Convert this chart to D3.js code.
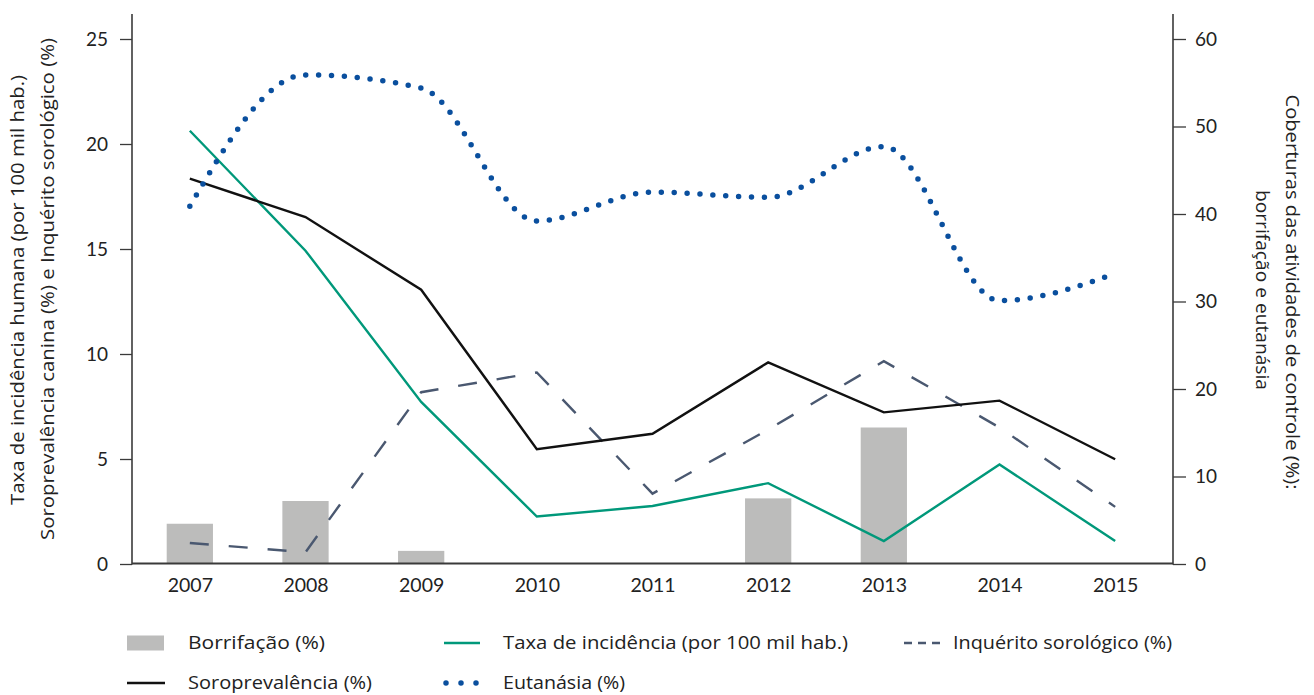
<!DOCTYPE html>
<html>
<head>
<meta charset="utf-8">
<script src="https://cdn.jsdelivr.net/npm/d3@7"></script>
<style>
  html, body { margin: 0; padding: 0; background: #fff; }
  svg { display: block; font-family: "Open Sans", Lato, sans-serif; }
</style>
</head>
<body>
<svg id="chart" width="1314" height="695"></svg>
<script>
// ---- data ----
const years = ["2007","2008","2009","2010","2011","2012","2013","2014","2015"];
const borrifacao = [4.6, 7.2, 1.5, null, null, 7.5, 15.6, null, null];          // right axis (%)
const eutanasia = [40.9, 55.9, 54.4, 39.2, 42.5, 41.9, 47.7, 30.1, 33.2];        // right axis (%)
const incidencia = [20.63, 14.92, 7.72, 2.26, 2.76, 3.85, 1.09, 4.74, 1.09];     // left axis
const soroprevalencia = [18.35, 16.52, 13.06, 5.47, 6.2, 9.6, 7.22, 7.78, 4.99]; // left axis
const inquerito = [1.0, 0.56, 8.18, 9.12, 3.35, 6.4, 9.66, 6.5, 2.72];           // left axis
const leftTicks = [0, 5, 10, 15, 20, 25];
const rightTicks = [0, 10, 20, 30, 40, 50, 60];

const legendItems = [
  { label: "Borrifação  (%)", type: "bar" },
  { label: "Taxa de incidência (por 100 mil hab.)", type: "green" },
  { label: "Inquérito sorológico (%)", type: "dash" },
  { label: "Soroprevalência (%)", type: "black" },
  { label: "Eutanásia (%)", type: "dots" }
];

// ---- layout ----
const svg = d3.select("#chart");
const L = 132, R = 1173, T = 14, B = 564, TOPVAL = 39;
const C = {
  bar: "#bcbcbb", green: "#00987a", dash: "#4a5870", black: "#111111", dots: "#0a4f9e", axis: "#3a3a3a", text: "#222"
};

const x = d3.scalePoint().domain(years).range([L, R]).padding(0.5);
const yL = d3.scaleLinear().domain([0, 25]).range([B, TOPVAL]);
const yR = d3.scaleLinear().domain([0, 60]).range([B, TOPVAL]);
const barW = x.step() * 0.4;

// bars
svg.append("g").selectAll("rect")
  .data(years.map((y, i) => ({ y, v: borrifacao[i] })).filter(d => d.v != null))
  .join("rect")
  .attr("x", d => x(d.y) - barW / 2)
  .attr("width", barW)
  .attr("y", d => yR(d.v))
  .attr("height", d => yR(0) - yR(d.v))
  .attr("fill", C.bar);

// lines
const mk = (arr, scale) => years.map((y, i) => [x(y), scale(arr[i])]);
const line = d3.line();

svg.append("path").attr("d", line(mk(inquerito, yL)))
  .attr("fill", "none").attr("stroke", C.dash).attr("stroke-width", 2.4)
  .attr("stroke-dasharray", "19,20");

svg.append("path").attr("d", line(mk(incidencia, yL)))
  .attr("fill", "none").attr("stroke", C.green).attr("stroke-width", 2.4);

svg.append("path").attr("d", line(mk(soroprevalencia, yL)))
  .attr("fill", "none").attr("stroke", C.black).attr("stroke-width", 2.4);

svg.append("path").attr("d", d3.line().curve(d3.curveMonotoneX)(mk(eutanasia, yR)))
  .attr("fill", "none").attr("stroke", C.dots).attr("stroke-width", 5.5)
  .attr("stroke-linecap", "round").attr("stroke-dasharray", "0,12.9");

// axes
function styleAxis(g) {
  g.selectAll(".domain").remove();
  g.selectAll("line").attr("stroke", C.axis).attr("stroke-width", 1.3);
  g.selectAll("text").attr("fill", C.text).attr("font-size", 19).attr("font-family", "Lato, sans-serif");
}
const gl = svg.append("g").attr("transform", `translate(${L},0)`)
  .call(d3.axisLeft(yL).tickValues(leftTicks).tickSize(12).tickPadding(12).tickFormat(d3.format("d")));
styleAxis(gl);
const gr = svg.append("g").attr("transform", `translate(${R},0)`)
  .call(d3.axisRight(yR).tickValues(rightTicks).tickSize(13).tickPadding(9).tickFormat(d3.format("d")));
styleAxis(gr);
const gx = svg.append("g").attr("transform", `translate(0,${B})`)
  .call(d3.axisBottom(x).tickSize(0).tickPadding(14));
styleAxis(gx);
gx.selectAll("text").attr("font-size", 19.5);

// axis lines
svg.append("line").attr("x1", L).attr("x2", L).attr("y1", T).attr("y2", B + 0.5).attr("stroke", C.axis).attr("stroke-width", 1.6);
svg.append("line").attr("x1", R).attr("x2", R).attr("y1", T).attr("y2", B + 0.5).attr("stroke", C.axis).attr("stroke-width", 1.6);
svg.append("line").attr("x1", L).attr("x2", R).attr("y1", B - 0.5).attr("y2", B - 0.5).attr("stroke", C.axis).attr("stroke-width", 1.8);

// axis titles
const titles = [
  { t: "Taxa de incidência humana (por 100 mil hab.)", x: 24, y: 290, rot: -90, len: 430 },
  { t: "Soroprevalência canina (%) e Inquérito sorológico (%)", x: 54, y: 289, rot: -90, len: 502 },
  { t: "Coberturas das atividades de controle (%):", x: 1286, y: 292, rot: 90, len: 395 },
  { t: "borrifação e eutanásia", x: 1256, y: 290, rot: 90, len: 200 }
];
titles.forEach(d => {
  svg.append("text").attr("transform", `translate(${d.x},${d.y}) rotate(${d.rot})`)
    .attr("text-anchor", "middle").attr("font-size", 18.5).attr("fill", C.text)
    .attr("textLength", d.len).attr("lengthAdjust", "spacingAndGlyphs")
    .text(d.t);
});

// legend
const legPos = [[127, 643], [444, 643], [904, 643], [127, 683], [444, 683]];
const legTextX = [188, 503, 953, 188, 503];
const legTextLen = [137, 345, 219, 184, 122];
const leg = svg.append("g");
legendItems.forEach((it, i) => {
  const [lx, ly] = legPos[i];
  const g = leg.append("g").attr("transform", `translate(${lx},${ly})`);
  if (it.type === "bar") {
    g.append("rect").attr("x", 0).attr("y", -7.5).attr("width", 37).attr("height", 15).attr("fill", C.bar);
  } else if (it.type === "green") {
    g.append("line").attr("x1", 0).attr("x2", 36).attr("stroke", C.green).attr("stroke-width", 2.6);
  } else if (it.type === "black") {
    g.append("line").attr("x1", 0).attr("x2", 38).attr("stroke", C.black).attr("stroke-width", 2.6);
  } else if (it.type === "dash") {
    g.append("line").attr("x1", 0).attr("x2", 38).attr("stroke", C.dash).attr("stroke-width", 2.6).attr("stroke-dasharray", "8,6");
  } else if (it.type === "dots") {
    g.append("line").attr("x1", 2).attr("x2", 34).attr("stroke", C.dots).attr("stroke-width", 5.5)
      .attr("stroke-linecap", "round").attr("stroke-dasharray", "0,15");
  }
  g.append("text").attr("x", legTextX[i] - lx).attr("y", 0).attr("dy", "0.34em")
    .attr("font-size", 18).attr("fill", C.text)
    .attr("textLength", legTextLen[i]).attr("lengthAdjust", "spacingAndGlyphs")
    .text(it.label);
});
</script>
</body>
</html>
